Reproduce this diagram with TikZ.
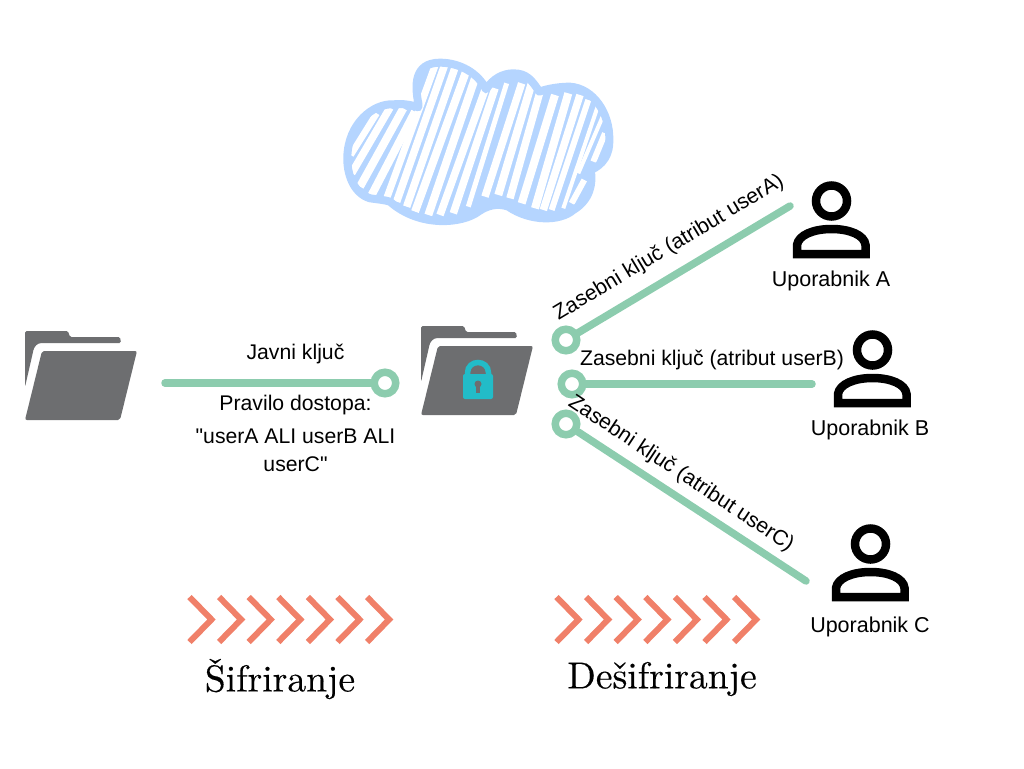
\documentclass[tikz,border=0pt]{standalone}
\usepackage{fontspec}
\newfontfamily\labelfont{Liberation Sans}
\newfontfamily\titlefont[FakeBold=0.3]{lmroman10-regular.otf}
\definecolor{cloudblue}{HTML}{B5D5FF}
\definecolor{foldergray}{HTML}{6D6E70}
\definecolor{keygreen}{HTML}{8CCCAE}
\definecolor{locktea}{HTML}{22BCC8}
\definecolor{chevred}{HTML}{F08069}
\tikzset{
	ring/.style     = {draw=keygreen, circle, line width=7.5pt, minimum size=21.5pt, inner sep=0pt},
	keyline/.style  = {draw=keygreen, line width=7.5pt, line cap=round},
	txt/.style      = {font=\labelfont\fontsize{21.2}{25}\selectfont, inner sep=0pt, align=center},
	usertxt/.style  = {font=\labelfont\fontsize{21.5}{25}\selectfont, inner sep=0pt},
	titletxt/.style = {font=\titlefont\fontsize{37.5}{42}\selectfont, inner sep=0pt},
	folder/.pic = {
		\fill[foldergray, rounded corners=1.5pt] (0,-1) -- (43,-1) -- (45,5) -- (95,5) -- (96,11)
			-- (18,11) .. controls (12,11) and (9,15) .. (8,20) -- (0,55) -- cycle;
		\fill[foldergray, rounded corners=2pt] (17,19) -- (112,19) -- (95,88) -- (0,88) -- cycle;
	},
	person/.pic = {
		\draw[black, line width=8.5pt] (0,0) circle [radius=15.5];
		\draw[black, line width=8.5pt, miter limit=4] (-34.5,53) -- (-34.5,44)
			.. controls (-33,34) and (-18,28) .. (0,28)
			.. controls (18,28) and (33,34) .. (34,44) -- (34,53) -- cycle;
	},
	chevrons/.pic = {
		\foreach \i in {0,...,6}
			\draw[chevred, line width=6pt] (29.6*\i,-22.5) -- (22+29.6*\i,0) -- (29.6*\i,22.5);
	}
}
\newcommand{\cloudpath}{(265,160) .. controls (255,110) and (250,38) .. (330,38)
	.. controls (390,38) and (445,70) .. (468,118)
	.. controls (490,85) and (520,70) .. (550,70)
	.. controls (590,70) and (605,90) .. (628,125)
	.. controls (655,115) and (690,110) .. (720,110)
	.. controls (790,115) and (840,190) .. (838,270)
	.. controls (840,310) and (820,345) .. (782,360)
	.. controls (790,400) and (780,450) .. (730,480)
	.. controls (690,515) and (600,515) .. (535,470)
	.. controls (500,458) and (470,468) .. (445,485)
	.. controls (400,520) and (270,535) .. (180,455)
	.. controls (165,450) and (140,448) .. (120,445)
	.. controls (70,430) and (50,370) .. (52,320)
	.. controls (55,220) and (130,160) .. (190,163)
	.. controls (220,160) and (245,165) .. (265,172) -- cycle}

\begin{document}
\begin{tikzpicture}[x=1pt, y=-1pt]
		\useasboundingbox (0,0) rectangle (1024,768);
		
		% cloud
		\begin{scope}[shift={(330,50)}, scale=0.3333]
			\begin{scope}
				\clip \cloudpath;
				\fill[cloudblue] (0,0) rectangle (900,570);
				\foreach \xa/\ya/\xb/\yb/\wd in {
					62/315/140/190/6.5, 65/370/180/173/7.5, 90/410/220/175/8, 125/435/255/185/8,
					170/445/315/47/7, 200/455/345/42/7.5, 230/470/375/53/7.5, 255/485/408/65/8,
					295/495/435/85/8, 330/495/465/120/7.5, 370/490/495/115/7.5, 415/470/530/100/5,
					465/440/575/100/7.5, 505/435/605/100/8, 540/445/630/125/7.5, 575/460/675/135/8,
					615/475/715/130/8, 640/480/750/135/7.5, 665/480/775/150/6, 700/475/803/170/4,
					745/370/818/200/4, 725/460/763/390/6, 790/335/825/250/6}
					\draw[white, line width=\wd pt] (\xa,\ya) -- (\xb,\yb);
			\end{scope}
			\draw[cloudblue, line width=8pt, line join=round] \cloudpath;
		\end{scope}
		
		\pic (f1) at (25,332) {folder};
		\pic (f2) at (421,327) {folder};
		
		% lock
		\draw[locktea, line width=5.5pt] (467.5,376) -- (467.5,373)
			.. controls (467.5,359) and (488.5,359) .. (488.5,373) -- (488.5,376);
		\fill[locktea, rounded corners=2pt] (463,374) rectangle (493,399);
		\fill[foldergray] (478,384) circle [radius=3.5];
		\fill[foldergray] (476,384) rectangle (480,393);
		
		\pic (ua) at (831.5,201) {person};
		\pic (ub) at (872.5,350) {person};
		\pic (uc) at (870.5,544) {person};
		
		\foreach \i/\xpos in {s/187, d/554}
			\pic (c\i) at (\xpos+2.5,619.5) {chevrons};
		
		\draw
		node at (385,383) [ring] (r0) {}
		node at (566,340) [ring] (r1) {}
		node at (572,384) [ring] (r2) {}
		node at (566,424) [ring] (r3) {};
		\coordinate (e0) at (165,383);
		\coordinate (e1) at (790,206);
		\coordinate (e2) at (812,384);
		\coordinate (e3) at (806,581);
		
		\draw[keyline] (e0)--(r0);
		\draw[keyline] (r1)--(e1);
		\draw[keyline] (r2)--(e2);
		\draw[keyline] (r3)--(e3);
		
		\draw
		node at (295.5,354) [txt] (t0) {Javni ključ}
		node at (295.5,405) [txt] (t1) {Pravilo dostopa:}
		node at (295.5,436) [txt] (t2) {"userA ALI userB ALI}
		node at (295.5,464) [txt] (t3) {userC"}
		node at (669,248) [txt, rotate=31] (k1) {Zasebni ključ (atribut userA)}
		node at (712,360) [txt] (k2) {Zasebni ključ (atribut userB)}
		node at (681,474) [txt, rotate=-33.5] (k3) {Zasebni ključ (atribut userC)}
		node at (831,280.5) [usertxt] (l1) {Uporabnik A}
		node at (870,429.5) [usertxt] (l2) {Uporabnik B}
		node at (870,626.5) [usertxt] (l3) {Uporabnik C}
		node at (280,679) [titletxt] (sif) {Šifriranje}
		node at (662,679) [titletxt] (des) {Dešifriranje};
		
	\end{tikzpicture}
\end{document}
